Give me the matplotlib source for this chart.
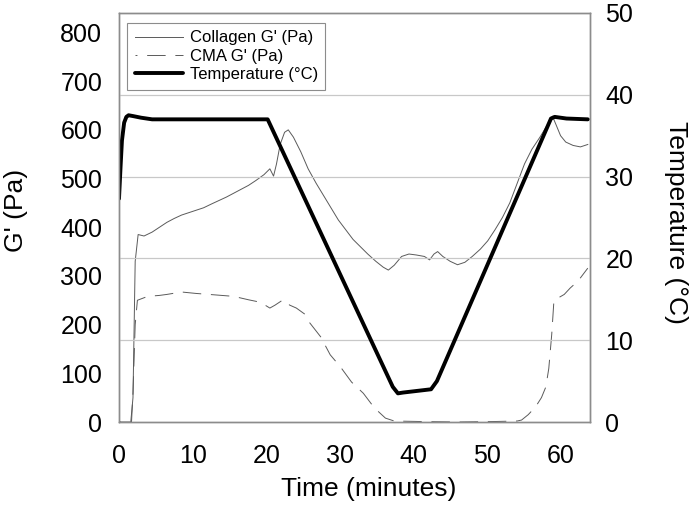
import matplotlib
matplotlib.use("Agg")
import matplotlib.pyplot as plt

plt.rcParams['font.family'] = ['Liberation Sans', 'DejaVu Sans']

# time (minutes) and G' (Pa) for collagen
t_col = [0, 1.6, 1.9, 2.2, 2.6, 3.4, 4.5, 5.5, 6.5, 7.5, 8.5, 9.5, 10.5, 11.5, 12.6,
         13.6, 14.6, 15.6, 16.6, 17.6, 18.6, 19.7, 20.5, 21.0, 21.4, 21.9, 22.5, 23.0,
         23.7, 24.7, 25.7, 26.8, 27.8, 28.8, 29.8, 30.8, 31.8, 32.8, 33.8, 34.9, 35.9,
         36.6, 37.4, 38.4, 39.4, 40.4, 41.5, 42.2, 42.8, 43.3, 44.0, 45.0, 46.0, 47.0,
         48.0, 49.1, 50.1, 51.1, 52.1, 53.1, 54.1, 55.1, 56.1, 57.2, 58.2, 58.9, 59.4,
         60.0, 60.7, 61.7, 62.7, 63.7]
g_col = [0, 0, 50, 330, 385, 382, 390, 400, 410, 418, 425, 430, 435, 440, 448,
         455, 462, 470, 478, 486, 496, 508, 520, 505, 530, 570, 595, 600,
         585, 555, 520, 490, 465, 440, 415, 395, 375, 360, 345, 330, 318,
         312, 322, 340, 345, 343, 340, 333, 345, 350, 340, 330, 323, 328,
         340, 355, 372, 395, 420, 450, 490, 530, 560, 585, 610, 628, 610,
         588, 575, 568, 565, 570]

# CMA G' (Pa)
t_cma = [0, 1.7, 1.9, 2.2, 2.5, 3.9, 5.5, 6.5, 8.5, 10.5, 13.1, 15.6, 17.6, 19.2,
         20.5, 21.2, 22.3, 23.2, 24.1, 25.2, 25.9, 27.4, 28.7, 30.1, 31.6, 33.2,
         34.7, 36.2, 37.4, 40.9, 46.0, 51.1, 54.1, 54.7, 55.6, 56.6, 57.4, 58.0,
         58.4, 58.8, 59.1, 59.7, 60.5, 61.3, 62.4, 63.7]
g_cma = [0, 0, 60, 200, 250, 258, 260, 262, 267, 264, 261, 258, 251, 246,
         234, 240, 251, 240, 234, 222, 204, 175, 138, 113, 82, 59,
         29, 8, 2, 1, 0, 1, 2, 4, 15, 31, 50, 72,
         110, 180, 250, 255, 262, 275, 290, 316]

# temperature (°C)
t_temp = [0, 0.2, 0.4, 0.7, 1.0, 1.3, 1.9, 3, 4.5, 6.5, 10, 15, 20.2, 37.2, 37.9,
          38.6, 42.4, 43.2, 58.7, 59.2, 60.8, 63.7]
temp = [27.3, 31, 34.4, 36.6, 37.3, 37.5, 37.4, 37.2, 37.0, 37.0, 37.0, 37.0, 37.0, 4.3, 3.5,
        3.6, 4.0, 5.0, 37.1, 37.3, 37.1, 37.0]

fig = plt.figure(figsize=(6.9, 5.05), dpi=100)
ax = fig.add_axes([119/690, 83/505, 471/690, 409/505])
ax2 = ax.twinx()

l1, = ax.plot(t_col, g_col, color='#5a5a5a', lw=0.7, label="Collagen G' (Pa)")
l2, = ax.plot(t_cma, g_cma, color='#5a5a5a', lw=0.7, linestyle=(17, (19, 10)),
              label="CMA G' (Pa)")
l3, = ax2.plot(t_temp, temp, color='black', lw=2.8, solid_joinstyle='round',
               solid_capstyle='round', label='Temperature (°C)')

ax.set_xlim(0, 64)
ax.set_ylim(0, 840)
ax2.set_ylim(0, 50)
ax.set_xticks([0, 10, 20, 30, 40, 50, 60])
ax.set_yticks(range(0, 801, 100))
ax2.set_yticks(range(0, 51, 10))

# gridlines from temperature axis
for v in [10, 20, 30, 40]:
    ax2.axhline(v, color='#c8c8c8', lw=0.9, zorder=0)

for a in (ax, ax2):
    for s in a.spines.values():
        s.set_color('#8c8c8c')
        s.set_linewidth(1)
ax.tick_params(axis='both', length=0, labelsize=18)
ax.tick_params(axis='x', pad=16)
ax.tick_params(axis='y', pad=12)
ax2.tick_params(axis='y', length=0, labelsize=18, pad=11)

fig.text(16/690, 1 - 210/505, "G' (Pa)", rotation=90, ha='center', va='center', fontsize=19)
fig.text(676/690, 1 - 222/505, 'Temperature (°C)', rotation=270, ha='center', va='center',
         fontsize=19)
fig.text(369/690, 1 - 489/505, 'Time (minutes)', ha='center', va='center', fontsize=19)

leg = ax2.legend(handles=[l1, l2, l3], loc='upper left', bbox_to_anchor=(8/471, 1 - 10/409),
                 borderaxespad=0, fontsize=12, handlelength=2.9, handletextpad=0.4,
                 labelspacing=0.2, borderpad=0.45, fancybox=False, framealpha=1)
leg.get_frame().set_edgecolor('#8c8c8c')
leg.get_frame().set_linewidth(0.8)

fig.savefig('out.png', dpi=100)
